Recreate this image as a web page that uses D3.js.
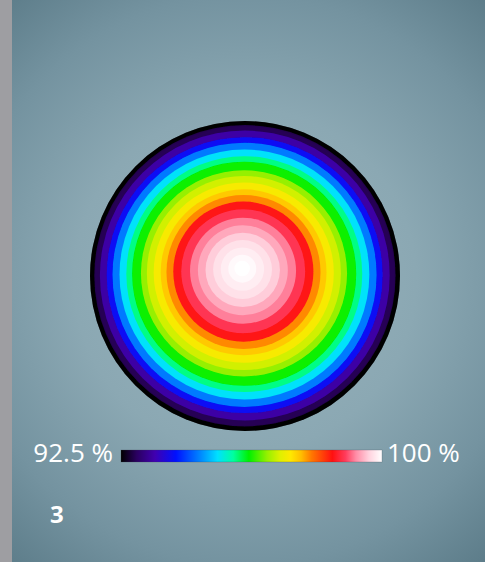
<!DOCTYPE html>
<html>
<head>
<meta charset="utf-8">
<script src="https://cdn.jsdelivr.net/npm/d3@7"></script>
<style>
  html, body { margin: 0; padding: 0; background: #5f7f8c; }
  svg { display: block; }
</style>
</head>
<body>
<svg id="chart" width="485" height="562"></svg>
<script>
// Relative irradiance bands (%) from the rim inward, with the outer radius of each band
// as a fraction of the aperture radius.
const ringValue  = [92.5, 92.9, 93.4, 94.0, 94.7, 95.3, 95.8, 96.2, 96.7, 97.0, 97.3,
                    97.6, 97.9, 98.6, 98.9, 99.2, 99.4, 99.6, 99.75, 99.85, 99.95, 100];
const ringRadius = [1.10, 0.972, 0.935, 0.890, 0.852, 0.806, 0.761, 0.723, 0.665, 0.626, 0.581,
                    0.535, 0.497, 0.452, 0.400, 0.342, 0.290, 0.240, 0.190, 0.140, 0.090, 0.050];

// Colour map stops (position along the scale 0..1)
const cmapPos   = [0.00, 0.06, 0.13, 0.21, 0.30, 0.37, 0.43, 0.49, 0.56, 0.61, 0.65,
                   0.69, 0.73, 0.81, 0.86, 0.90, 0.95, 1.00];
const cmapColor = ["#000000", "#2a0060", "#4000b0", "#0010ff", "#0082ff", "#00e0ff", "#00ffa0",
                   "#00f000", "#96f000", "#e0f000", "#ffe800", "#ffbe00", "#ff7800", "#ff1010",
                   "#ff3c5c", "#ff8ca6", "#ffd2de", "#ffffff"];

const scaleMin = 92.5, scaleMax = 100;
const tickValues = [92.5, 100];
const tickLabels = ["92.5 %", "100 %"];
const panelLabel = "3";

const svg = d3.select("#chart");
const W = 485, H = 562;
const defs = svg.append("defs");

// background
const bg = defs.append("radialGradient").attr("id", "bg")
  .attr("gradientUnits", "userSpaceOnUse")
  .attr("cx", 245).attr("cy", 280).attr("r", 380);
bg.append("stop").attr("offset", 0).attr("stop-color", "#9ab4be");
bg.append("stop").attr("offset", 0.45).attr("stop-color", "#8ba8b3");
bg.append("stop").attr("offset", 0.75).attr("stop-color", "#7493a0");
bg.append("stop").attr("offset", 1).attr("stop-color", "#5a7a87");
svg.append("rect").attr("width", W).attr("height", H).attr("fill", "url(#bg)");
svg.append("rect").attr("width", 12).attr("height", H).attr("fill", "#9e9ea2");

// colour scale
const frac = d3.scaleLinear().domain([scaleMin, scaleMax]).range([0, 1]);
const cmap = d3.scaleLinear().domain(cmapPos).range(cmapColor).interpolate(d3.interpolateRgb);
const color = v => cmap(frac(v));

// disk: inner bands sit slightly up and left of the aperture centre
const cx = 245, cy = 276, R = 155;
const rScale = d3.scaleLinear().domain([0, 1]).range([0, R]);
const ringCx = r => cx - 3 * Math.max(0, 1 - r);
const ringCy = r => cy - 8 * Math.max(0, 1 - r);

defs.append("clipPath").attr("id", "disk")
  .append("circle").attr("cx", cx).attr("cy", cy).attr("r", R);

const blur = defs.append("filter").attr("id", "soft")
  .attr("x", "-10%").attr("y", "-10%").attr("width", "120%").attr("height", "120%");
blur.append("feGaussianBlur").attr("stdDeviation", 0.7);

const ringData = ringValue.map((v, i) => ({ v, r: ringRadius[i] }));
const diskG = svg.append("g").attr("clip-path", "url(#disk)");
diskG.append("g").attr("filter", "url(#soft)")
  .selectAll("circle").data(ringData).join("circle")
  .attr("cx", d => ringCx(d.r)).attr("cy", d => ringCy(d.r))
  .attr("r", d => rScale(d.r))
  .attr("fill", d => color(d.v));

// dark rim shading
const rim = defs.append("radialGradient").attr("id", "rim")
  .attr("gradientUnits", "userSpaceOnUse")
  .attr("cx", cx).attr("cy", cy).attr("r", R);
rim.append("stop").attr("offset", 0.96).attr("stop-color", "#000").attr("stop-opacity", 0);
rim.append("stop").attr("offset", 1).attr("stop-color", "#000").attr("stop-opacity", 0.4);
svg.append("circle").attr("cx", cx).attr("cy", cy).attr("r", R).attr("fill", "url(#rim)");

// colour bar
const barX = d3.scaleLinear().domain([scaleMin, scaleMax]).range([121, 382]);
const barY = 450, barH = 12;
const lg = defs.append("linearGradient").attr("id", "cbar")
  .attr("x1", "0%").attr("x2", "100%").attr("y1", "0%").attr("y2", "0%");
lg.selectAll("stop").data(cmapPos).join("stop")
  .attr("offset", d => d).attr("stop-color", (d, i) => cmapColor[i]);
svg.append("rect")
  .attr("x", barX(scaleMin)).attr("y", barY)
  .attr("width", barX(scaleMax) - barX(scaleMin)).attr("height", barH)
  .attr("fill", "url(#cbar)")
  .attr("stroke", "rgba(60,70,80,0.5)").attr("stroke-width", 0.5);

svg.selectAll("text.tick").data(tickValues).join("text")
  .attr("class", "tick")
  .attr("x", (d, i) => i === 0 ? barX(d) - 8 : barX(d) + 5)
  .attr("y", barY + 12)
  .attr("text-anchor", (d, i) => i === 0 ? "end" : "start")
  .attr("font-family", "'Open Sans', sans-serif")
  .attr("font-size", 26)
  .attr("fill", "#ffffff")
  .text((d, i) => tickLabels[i]);

svg.append("text")
  .attr("x", 50).attr("y", 523)
  .attr("font-family", "'Open Sans', sans-serif")
  .attr("font-weight", "bold")
  .attr("font-size", 24)
  .attr("fill", "#ffffff")
  .text(panelLabel);
</script>
</body>
</html>
